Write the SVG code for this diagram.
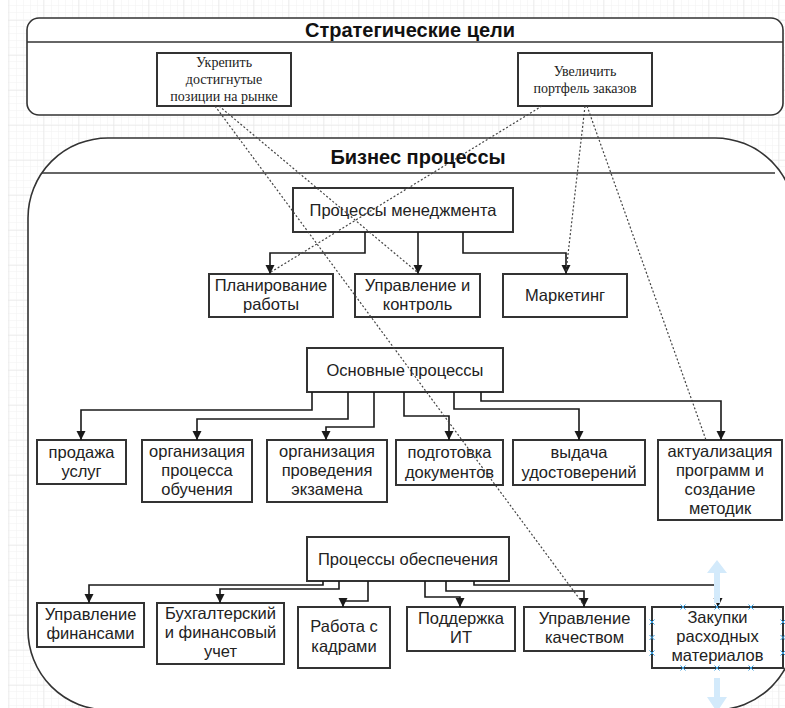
<svg xmlns="http://www.w3.org/2000/svg" width="785" height="708" viewBox="0 0 785 708">
  <defs>
    <pattern id="gridMinor" x="8" y="6" width="7" height="7" patternUnits="userSpaceOnUse">
      <path d="M7 0 L0 0 0 7" fill="none" stroke="#f1f1f1" stroke-width="1"/>
    </pattern>
    <pattern id="gridMajor" x="8" y="20" width="35" height="35" patternUnits="userSpaceOnUse">
      <rect width="35" height="35" fill="url(#gridMinor)"/>
      <path d="M35 0 L0 0 0 35" fill="none" stroke="#e3e3e3" stroke-width="1"/>
    </pattern>
    <marker id="tip" markerWidth="10" markerHeight="10" refX="9" refY="5" orient="auto" markerUnits="userSpaceOnUse" viewBox="0 0 10 10">
      <path d="M0 0.5 L9 5 L0 9.5 Z" fill="#1a1a1a"/>
    </marker>
  </defs>
  <style>
    .lane { fill: #ffffff; stroke: #333333; stroke-width: 1.6; }
    .lane-line { stroke: #333333; stroke-width: 1.6; fill: none; }
    .lane-title { font-family: "Liberation Sans", Arial, sans-serif; font-size: 20px; font-weight: bold; fill: #111111; text-anchor: middle; }
    .box { fill: #ffffff; stroke: #333333; stroke-width: 2; }
    .goal { font-family: "Liberation Serif", "Times New Roman", serif; font-size: 14px; fill: #222222; text-anchor: middle; }
    .label { font-family: "Liberation Sans", Arial, sans-serif; font-size: 16.5px; fill: #222222; text-anchor: middle; }
    .edge { fill: none; stroke: #1a1a1a; stroke-width: 1.6; marker-end: url(#tip); }
    .trace { fill: none; stroke: #444444; stroke-width: 1.2; stroke-dasharray: 2 2; }
    .handle-arrow { fill: #d3eafb; }
    .handle-x { stroke: #3a9fe0; stroke-width: 1; fill: none; }
  </style>

  <!-- background grid -->
  <rect x="0" y="0" width="785" height="708" fill="#ffffff"/>
  <rect x="8" y="0" width="777" height="708" fill="url(#gridMajor)"/>

  <!-- strategic goals lane -->
  <g id="lane-goals">
    <rect class="lane" x="27" y="18" width="756" height="97" rx="12" ry="12"/>
    <line class="lane-line" x1="27" y1="42" x2="783" y2="42"/>
    <text class="lane-title" x="410" y="37">Стратегические цели</text>
  </g>

  <!-- business processes lane -->
  <g id="lane-processes">
    <rect class="lane" x="28" y="138" width="767" height="572" rx="80" ry="80"/>
    <line class="lane-line" x1="42" y1="173" x2="775" y2="173"/>
    <text class="lane-title" x="418" y="164">Бизнес процессы</text>
  </g>

  <!-- goal nodes -->
  <g id="goal-strengthen">
    <rect class="box" x="157" y="53" width="134" height="53"/>
    <text class="goal" x="224" y="67">Укрепить</text>
    <text class="goal" x="224" y="84">достигнутые</text>
    <text class="goal" x="224" y="101">позиции на рынке</text>
  </g>
  <g id="goal-portfolio">
    <rect class="box" x="518" y="53" width="134" height="53"/>
    <text class="goal" x="585" y="76">Увеличить</text>
    <text class="goal" x="585" y="93">портфель заказов</text>
  </g>

  <!-- management processes -->
  <g id="mgmt">
    <rect class="box" x="293" y="188" width="220" height="44"/>
    <text class="label" x="403" y="216">Процессы менеджмента</text>
  </g>
  <g id="mgmt-planning">
    <rect class="box" x="209" y="274" width="124" height="43"/>
    <text class="label" x="271" y="291">Планирование</text>
    <text class="label" x="271" y="310">работы</text>
  </g>
  <g id="mgmt-control">
    <rect class="box" x="355" y="274" width="125" height="43"/>
    <text class="label" x="417.5" y="291">Управление и</text>
    <text class="label" x="417.5" y="310">контроль</text>
  </g>
  <g id="mgmt-marketing">
    <rect class="box" x="503" y="274" width="124" height="43"/>
    <text class="label" x="565" y="301">Маркетинг</text>
  </g>

  <!-- core processes -->
  <g id="core">
    <rect class="box" x="307" y="348" width="196" height="44"/>
    <text class="label" x="405" y="376">Основные процессы</text>
  </g>
  <g id="core-sales">
    <rect class="box" x="37" y="440" width="89" height="44"/>
    <text class="label" x="81.5" y="458">продажа</text>
    <text class="label" x="81.5" y="477">услуг</text>
  </g>
  <g id="core-training">
    <rect class="box" x="142" y="440" width="110" height="62"/>
    <text class="label" x="197" y="457">организация</text>
    <text class="label" x="197" y="476">процесса</text>
    <text class="label" x="197" y="495">обучения</text>
  </g>
  <g id="core-exam">
    <rect class="box" x="267" y="440" width="120" height="62"/>
    <text class="label" x="327" y="457">организация</text>
    <text class="label" x="327" y="476">проведения</text>
    <text class="label" x="327" y="495">экзамена</text>
  </g>
  <g id="core-documents">
    <rect class="box" x="396" y="440" width="107" height="45"/>
    <text class="label" x="449.5" y="458">подготовка</text>
    <text class="label" x="449.5" y="478">документов</text>
  </g>
  <g id="core-certificates">
    <rect class="box" x="513" y="440" width="132" height="45"/>
    <text class="label" x="579" y="458">выдача</text>
    <text class="label" x="579" y="478">удостоверений</text>
  </g>
  <g id="core-programs">
    <rect class="box" x="658" y="440" width="124" height="80"/>
    <text class="label" x="720" y="457">актуализация</text>
    <text class="label" x="720" y="476">программ и</text>
    <text class="label" x="720" y="495">создание</text>
    <text class="label" x="720" y="514">методик</text>
  </g>

  <!-- support processes -->
  <g id="support">
    <rect class="box" x="307" y="537" width="202" height="44"/>
    <text class="label" x="408" y="565">Процессы обеспечения</text>
  </g>
  <g id="support-finance">
    <rect class="box" x="37" y="603" width="107" height="44"/>
    <text class="label" x="90.5" y="620">Управление</text>
    <text class="label" x="90.5" y="639">финансами</text>
  </g>
  <g id="support-accounting">
    <rect class="box" x="157" y="603" width="127" height="61"/>
    <text class="label" x="220.5" y="619">Бухгалтерский</text>
    <text class="label" x="220.5" y="638">и финансовый</text>
    <text class="label" x="220.5" y="657">учет</text>
  </g>
  <g id="support-hr">
    <rect class="box" x="298" y="607" width="92" height="61"/>
    <text class="label" x="344" y="632">Работа с</text>
    <text class="label" x="344" y="652">кадрами</text>
  </g>
  <g id="support-it">
    <rect class="box" x="407" y="607" width="108" height="44"/>
    <text class="label" x="461" y="624">Поддержка</text>
    <text class="label" x="461" y="643">ИТ</text>
  </g>
  <g id="support-quality">
    <rect class="box" x="524" y="607" width="121" height="44"/>
    <text class="label" x="584.5" y="624">Управление</text>
    <text class="label" x="584.5" y="643">качеством</text>
  </g>
  <g id="support-purchasing">
    <rect class="box" x="652" y="607" width="131" height="61"/>
    <text class="label" x="717.5" y="623">Закупки</text>
    <text class="label" x="717.5" y="642">расходных</text>
    <text class="label" x="717.5" y="661">материалов</text>
  </g>

  <!-- connectors -->
  <g id="connectors">
    <!-- management -->
    <path class="edge" d="M365 232 V253 H270 V274"/>
    <path class="edge" d="M418 232 V274"/>
    <path class="edge" d="M463 232 V253 H566 V274"/>
    <!-- core -->
    <path class="edge" d="M312 392 V410 H81 V440"/>
    <path class="edge" d="M348 392 V419 H197 V440"/>
    <path class="edge" d="M374 392 V427 H326 V440"/>
    <path class="edge" d="M404 392 V416 H449 V440"/>
    <path class="edge" d="M454 392 V409 H579 V440"/>
    <path class="edge" d="M481 392 V401 H721 V440"/>
    <!-- support -->
    <path class="edge" d="M323 581 V585 H89 V603"/>
    <path class="edge" d="M339 581 V589 H220 V603"/>
    <path class="edge" d="M368 581 V601 H343 V607"/>
    <path class="edge" d="M425 581 V597 H460 V607"/>
    <path class="edge" d="M446 581 V591 H584 V607"/>
    <path class="edge" d="M474 581 V585 H718 V607"/>
    <!-- goal traces -->
    <path class="trace" d="M215 106 L584 605"/>
    <path class="trace" d="M219 106 L417 272"/>
    <path class="trace" d="M542 106 L271 272"/>
    <path class="trace" d="M585 106 L566 272"/>
    <path class="trace" d="M587 106 L706 440"/>
  </g>

  <!-- selection handles on the purchasing node -->
  <g id="selection-handles">
    <path class="handle-arrow" d="M717 560 L727 573 L720 573 L720 603 L714 603 L714 573 L707 573 Z"/>
    <path class="handle-arrow" d="M714 678 L720 678 L720 697 L727 697 L717 712 L707 697 L714 697 Z"/>
    <path class="handle-x" d="M680.5 604.5 l5 5 m0 -5 l-5 5 M714.5 604.5 l5 5 m0 -5 l-5 5 M748.5 604.5 l5 5 m0 -5 l-5 5
      M680.5 665.5 l5 5 m0 -5 l-5 5 M714.5 665.5 l5 5 m0 -5 l-5 5 M748.5 665.5 l5 5 m0 -5 l-5 5
      M649.5 619.5 l5 5 m0 -5 l-5 5 M649.5 635 l5 5 m0 -5 l-5 5 M649.5 650.5 l5 5 m0 -5 l-5 5
      M780.5 619.5 l5 5 m0 -5 l-5 5 M780.5 635 l5 5 m0 -5 l-5 5 M780.5 650.5 l5 5 m0 -5 l-5 5"/>
  </g>
</svg>
